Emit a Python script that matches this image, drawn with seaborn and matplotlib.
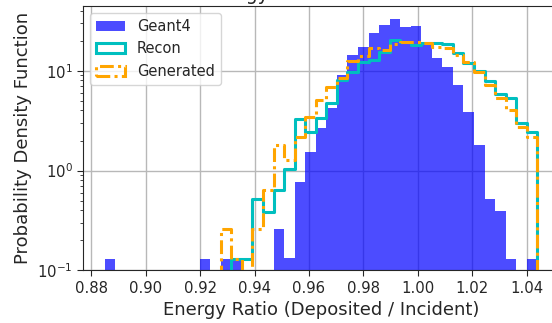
import numpy as np
import matplotlib
matplotlib.use("Agg")
import matplotlib.pyplot as plt
from matplotlib.patches import Patch
import seaborn as sns

# Shared binning of the energy ratio (all three samples use the same edges)
ratio_min = 0.8849
ratio_max = 1.0439
n_bins = 41

# Probability density in each bin, lowest ratio first
geant4 = [0.129, 0, 0, 0, 0, 0, 0, 0, 0, 0.129, 0, 0.129, 0.129, 0, 0, 0,
          0.260, 0.133, 0.771, 1.54, 2.68, 4.25, 9.12, 14.5, 17.4, 24.0,
          28.9, 33.2, 27.6, 28.3, 19.1, 13.5, 11.0, 7.24, 3.88, 1.81,
          0.516, 0.394, 0.129, 0, 0.129]
recon = [0, 0, 0, 0, 0, 0, 0, 0, 0, 0, 0, 0, 0.129, 0.129, 0.515, 0.387,
         0.644, 1.03, 3.30, 2.46, 3.36, 4.74, 8.13, 9.78, 12.3, 12.9,
         15.5, 20.5, 19.5, 18.2, 19.1, 19.1, 18.7, 15.2, 12.0, 10.0,
         7.94, 5.87, 5.36, 3.01, 2.44]
generated = [0, 0, 0, 0, 0, 0, 0, 0, 0, 0, 0, 0.258, 0.129, 0, 0.258, 0.644,
             1.81, 1.28, 2.18, 3.46, 5.12, 6.91, 8.51, 12.6, 14.1, 17.0,
             16.3, 18.7, 19.5, 19.5, 19.1, 17.4, 17.0, 14.5, 12.3, 9.78,
             7.24, 5.36, 4.06, 2.74, 2.18]

edges = np.linspace(ratio_min, ratio_max, n_bins + 1)
centers = 0.5 * (edges[:-1] + edges[1:])
bin_kws = dict(bins=n_bins, binrange=(ratio_min, ratio_max), stat="count")

sns.set_style("ticks", {"axes.grid": True, "grid.color": "#b8b8b8",
                        "axes.edgecolor": "0.15"})
plt.rcParams["font.family"] = ["DejaVu Sans"]

fig = plt.figure(figsize=(5.52, 3.23), dpi=100)
ax = fig.add_axes([0.1504, 0.1628, 0.8623, 0.8186])
ax.set_yscale("log")

lw = 2.2
sns.histplot(x=centers, weights=geant4, element="bars", color="blue",
             alpha=0.7, linewidth=0, ax=ax, **bin_kws)
sns.histplot(x=centers, weights=recon, element="step", fill=True,
             color="c", facecolor="none", edgecolor="c", linewidth=lw,
             ax=ax, **bin_kws)
sns.histplot(x=centers, weights=generated, element="step", fill=True,
             color="orange", facecolor="none", edgecolor="orange",
             linewidth=lw, linestyle=(0, (4.5, 1.4, 1, 1.4)), ax=ax,
             **bin_kws)

span = ratio_max - ratio_min
ax.set_xlim(ratio_min - 0.05 * span, ratio_max + 0.05 * span)
ax.set_ylim(0.1, 44.5)
ax.set_xticks(np.arange(0.88, 1.041, 0.02))
ax.xaxis.set_major_formatter(matplotlib.ticker.FormatStrFormatter("%.2f"))
ax.tick_params(axis="both", which="major", labelsize=10.7, length=4)
ax.grid(True, which="major", color="#b8b8b8", linewidth=1)
ax.grid(False, which="minor")

ax.set_xlabel("Energy Ratio (Deposited / Incident)", fontsize=13)
ax.set_ylabel("Probability Density Function", fontsize=13)
ax.set_title("Energy Ratio Distribution", fontsize=13.5, pad=4)

handles = [
    Patch(facecolor="blue", alpha=0.7, edgecolor="none", label="Geant4"),
    Patch(facecolor="none", edgecolor="c", linewidth=lw, label="Recon"),
    Patch(facecolor="none", edgecolor="orange", linewidth=lw,
          linestyle=(0, (4.5, 1.4, 1, 1.4)), label="Generated"),
]
ax.legend(handles=handles, loc="upper left", fontsize=10.5, frameon=True,
          fancybox=True, framealpha=0.8, edgecolor="0.8")

fig.savefig("out.png", dpi=100)
